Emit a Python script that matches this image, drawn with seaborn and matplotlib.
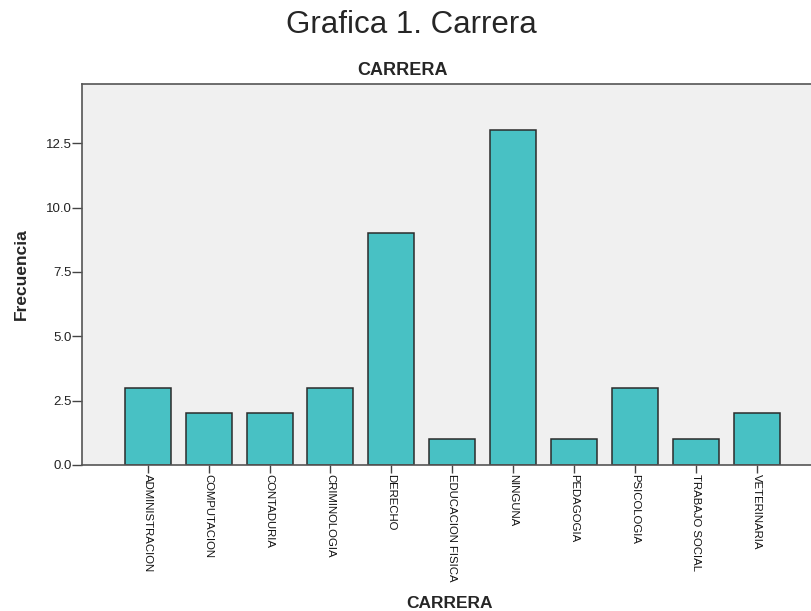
import pandas as pd
import seaborn as sns
import matplotlib.pyplot as plt
from matplotlib import font_manager
from matplotlib.ticker import FormatStrFormatter

carreras = ['ADMINISTRACION', 'COMPUTACION', 'CONTADURIA', 'CRIMINOLOGIA', 'DERECHO',
            'EDUCACION FISICA', 'NINGUNA', 'PEDAGOGIA', 'PSICOLOGIA', 'TRABAJO SOCIAL',
            'VETERINARIA']
frecuencias = [3, 2, 2, 3, 9, 1, 13, 1, 3, 1, 2]
y_ticks = [0.0, 2.5, 5.0, 7.5, 10.0, 12.5]

df = pd.DataFrame({'carrera': carreras, 'frecuencia': frecuencias})

sns.set_style('white')
plt.rcParams['font.family'] = ['Liberation Sans', 'DejaVu Sans']

# fuente estrecha para las etiquetas del eje x, si existe
nombres = {f.name for f in font_manager.fontManager.ttflist}
if 'Liberation Sans Narrow' in nombres:
    fam_x, size_x = ['Liberation Sans Narrow', 'Liberation Sans'], 10
else:
    fam_x, size_x = ['Liberation Sans', 'DejaVu Sans'], 8.2

fig = plt.figure(figsize=(8.12, 6.11), dpi=100)
ax = fig.add_axes([0.101, 0.239, 0.906, 0.6236])
ax.set_facecolor('#f0f0f0')

sns.barplot(data=df, x='carrera', y='frecuencia', color='#48c1c4', saturation=1,
            width=0.755, edgecolor='#2b2b2b', linewidth=1.1, ax=ax)

ax.set_xlim(-1.08, 11.0)
ax.set_ylim(0, 14.8)
ax.set_yticks(y_ticks)
ax.yaxis.set_major_formatter(FormatStrFormatter('%.1f'))
ax.tick_params(axis='y', labelsize=9.5, length=7, width=1, color='#444444',
               direction='out', left=True, pad=0.5, labelcolor='#222222')
ax.tick_params(axis='x', length=6, width=1, color='#444444',
               direction='out', bottom=True, pad=0.5, labelcolor='#111111')
for lbl in ax.get_xticklabels():
    lbl.set_rotation(-90)
    lbl.set_va('top')
    lbl.set_ha('center')
    lbl.set_family(fam_x)
    lbl.set_fontsize(size_x)

for sp in ax.spines.values():
    sp.set_color('#555555')
    sp.set_linewidth(1.2)

ax.set_xlabel('CARRERA', fontsize=12.5, fontweight='bold', va='baseline')
ax.xaxis.set_label_coords(0.5, -0.375)
ax.set_ylabel('Frecuencia', fontsize=12.5, fontweight='bold')
ax.yaxis.set_label_coords(-0.072, 0.5)
ax.set_title('CARRERA', fontsize=13, fontweight='bold', pad=6.5, x=0.436)

fig.text(0.507, 0.946, 'Grafica 1. Carrera', ha='center', va='baseline', fontsize=22.5)

fig.savefig('out.png', dpi=100, facecolor='white')
